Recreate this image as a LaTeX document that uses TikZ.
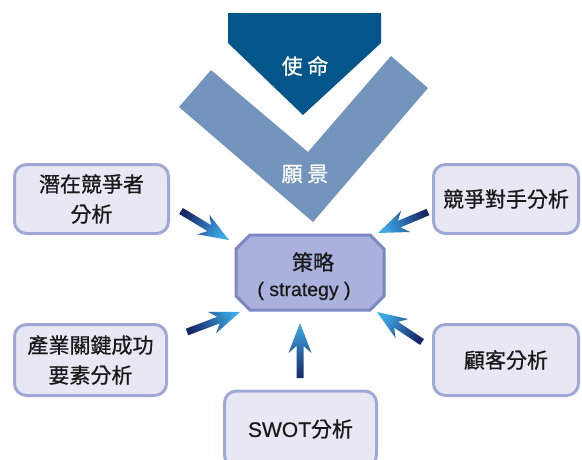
\documentclass[tikz,border=0pt]{standalone}
\usepackage{fontspec}
\newfontfamily\cjk[UprightFeatures={FakeBold=0.8}]{Noto Sans CJK TC}
\newfontfamily\lat[UprightFeatures={FakeBold=0.5}]{Liberation Sans}
\usetikzlibrary{calc}
\definecolor{mission}{HTML}{03568A}
\definecolor{vision}{HTML}{7394BC}
\definecolor{boxfill}{HTML}{E8E8F4}
\definecolor{boxline}{HTML}{A0A8D8}
\definecolor{stratfill}{HTML}{A9B1DC}
\definecolor{stratline}{HTML}{7C88C4}
\definecolor{arrdark}{HTML}{172767}
\definecolor{arrmid}{HTML}{1B58AA}
\definecolor{arrlight}{HTML}{3DAAE8}
\tikzset{
  infobox/.style={draw=boxline, line width=3pt, fill=boxfill, rounded corners=12pt,
    align=center, inner sep=0pt, font=\cjk\fontsize{21}{30}\selectfont, text=black!90},
  whitelabel/.style={text=white, font=\cjk\fontsize{21}{25}\selectfont},
  strattext/.style={text=black!90},
}
\newcommand\gradarr[1]{%
  \pgfmathanglebetweenpoints{\pgfpointanchor{#1t}{center}}{\pgfpointanchor{#1h}{center}}%
  \pgfmathsetmacro\myang{\pgfmathresult-90}%
  \coordinate (#1s) at ($(#1h)!23pt!(#1t)$);
  \coordinate (#1q) at ($(#1h)!30pt!(#1t)$);
  \shade[top color=arrlight, middle color=arrmid, bottom color=arrdark, shading angle=\myang]
    ($(#1t)!3.5pt!90:(#1h)$) -- ($(#1s)!3.5pt!90:(#1h)$) -- ($(#1q)!11.5pt!90:(#1h)$) -- (#1h)
    -- ($(#1q)!11.5pt!-90:(#1h)$) -- ($(#1s)!3.5pt!-90:(#1h)$) -- ($(#1t)!3.5pt!-90:(#1h)$) -- cycle;%
}
\begin{document}
\begin{tikzpicture}[x=1pt,y=-1pt]
\useasboundingbox (0,0) rectangle (582,459);
% vision chevron
\fill[vision] (179,107) -- (211,70) -- (308,152) -- (391,56) -- (428,88) -- (313,222) -- cycle;
% mission pentagon
\fill[mission] (228,13) -- (381,13) -- (381,43) -- (303,115) -- (228,43) -- cycle;
\node[whitelabel] (mis) at (305,66) {使 命};
\node[whitelabel] (vis) at (305,174) {願 景};
% strategy octagon
\filldraw[draw=stratline, line width=3pt, fill=stratfill, line join=miter]
  (250,235) -- (370,235) -- (384,249) -- (384,296) -- (370,310) -- (250,310) -- (236,296) -- (236,249) -- cycle;
\node[strattext, font=\cjk\fontsize{21}{25}\selectfont] (s1) at (313,262) {策略};
\node[strattext, font=\lat\fontsize{19.5}{23}\selectfont] (s2) at (304,291) {( strategy )};
% boxes
\node[infobox, minimum width=154pt, minimum height=69pt] (b1) at (91.5,199) {潛在競爭者\\分析};
\node[infobox, minimum width=145pt, minimum height=69pt] (b2) at (506,199) {競爭對手分析};
\node[infobox, minimum width=152pt, minimum height=71pt] (b3) at (90.5,360) {產業關鍵成功\\要素分析};
\node[infobox, minimum width=145pt, minimum height=71pt] (b4) at (506,360) {顧客分析};
\node[infobox, minimum width=152pt, minimum height=76pt] (b5) at (300.5,429) {{\lat\fontsize{21}{23}\selectfont SWOT}分析};
% arrows
\coordinate (at) at (181,211); \coordinate (ah) at (229,240);
\coordinate (bt) at (428,212); \coordinate (bh) at (378,233);
\coordinate (ct) at (187,332); \coordinate (ch) at (240,312);
\coordinate (dt) at (422,342); \coordinate (dh) at (377,312);
\coordinate (et) at (300,378); \coordinate (eh) at (300,323);
\gradarr{a}
\gradarr{b}
\gradarr{c}
\gradarr{d}
\gradarr{e}
\end{tikzpicture}
\end{document}
